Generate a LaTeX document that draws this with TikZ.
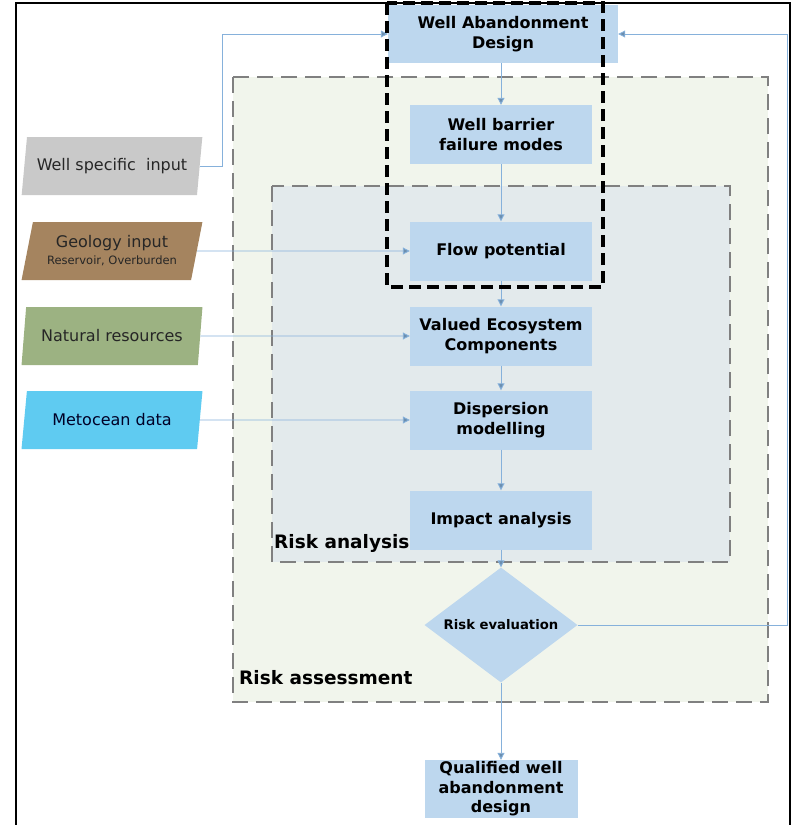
\documentclass[tikz,border=0pt]{standalone}
\usepackage{fontspec}
\setmainfont{DejaVu Sans}
\usetikzlibrary{shapes.geometric, arrows.meta}
\definecolor{boxblue}{HTML}{BDD7EE}
\definecolor{linkblue}{HTML}{86B1DB}
\definecolor{assessbg}{HTML}{F1F5EC}
\definecolor{analysisbg}{HTML}{E3EAEC}
\definecolor{wellgray}{HTML}{C9C9C9}
\definecolor{geobrown}{HTML}{A5845F}
\definecolor{natgreen}{HTML}{9CB282}
\definecolor{metblue}{HTML}{5FCBF1}
\tikzset{
  stepbox/.style={fill=boxblue, inner sep=0pt, align=center,
    minimum width=182pt, minimum height=59pt,
    font=\bfseries\fontsize{16}{19.5}\selectfont},
  inbox/.style={trapezium, trapezium left angle=73, trapezium right angle=107,
    trapezium stretches=true, inner sep=0pt, align=center,
    minimum width=181pt, minimum height=58pt, text=black!85,
    font=\fontsize{16}{18}\selectfont},
  link/.style={draw=linkblue, line width=0.9pt,
    -{Triangle[length=7pt, width=7pt, fill=linkblue!80!black]}},
  zone/.style={draw=gray, line width=1.4pt, dash pattern=on 16pt off 8pt},
  zonelabel/.style={font=\bfseries\fontsize{18.5}{20}\selectfont, inner sep=0pt}
}
\begin{document}
\begin{tikzpicture}[x=1pt, y=-1pt]
\useasboundingbox (0,0) rectangle (794,825);
% frame
\draw[line width=1.5pt] (16,840) -- (16,3) -- (790,3) -- (790,840);
% risk assessment and risk analysis areas
\fill[assessbg] (233,77) rectangle (768,702);
\draw[zone] (233,77) rectangle (768,702);
\fill[analysisbg] (272,186) rectangle (730,562);
\draw[zone] (272,186) rectangle (730,562);
\node[zonelabel, anchor=south west] (analysis) at (274,553) {Risk analysis};
\node[zonelabel, anchor=west] (assessment) at (239,678) {Risk assessment};
% steps
\node[stepbox, minimum width=230pt, minimum height=58pt] (wad) at (503,34) {Well Abandonment\\Design};
\node[stepbox] (wbf) at (501,134.5) {Well barrier\\failure modes};
\node[stepbox] (flow) at (501,251) {Flow potential};
\node[stepbox] (vec) at (501,336) {Valued Ecosystem\\Components};
\node[stepbox] (disp) at (501,420) {Dispersion\\modelling};
\node[stepbox] (imp) at (501,520) {Impact analysis};
\node[diamond, fill=boxblue, inner sep=0pt, minimum width=153pt, minimum height=115pt] (eval) at (501,625) {};
\node[font=\bfseries\fontsize{13.2}{15}\selectfont, inner sep=0pt] (evaltext) at (eval) {Risk evaluation};
\node[stepbox, minimum width=153pt, minimum height=58pt] (qual) at (501,789) {Qualified well\\abandonment\\design};
% inputs
\node[inbox, fill=wellgray] (ws) at (112,166) {Well specific\ \ input};
\node[inbox, fill=geobrown] (geo) at (112,251)
  {Geology input\\[-1pt]{\fontsize{11.5}{13}\selectfont Reservoir, Overburden}};
\node[inbox, fill=natgreen] (nat) at (112,336) {Natural resources};
\node[inbox, fill=metblue, text=black!75!blue!60!black] (met) at (112,420) {Metocean data};
% links
\coordinate (fb) at (787,625);
\draw[link] (ws.east) -- ++(23,0) |- (wad.west);
\draw[link] (geo.east) -- (flow.west);
\draw[link] (nat.east) -- (vec.west);
\draw[link] (met.east) -- (disp.west);
\draw[link] (wbf.north |- wad.south) -- (wbf);
\draw[link] (wbf) -- (flow);
\draw[link] (flow) -- (vec);
\draw[link] (vec) -- (disp);
\draw[link] (disp) -- (imp);
\draw[link] (imp) -- (eval);
\draw[link] (eval) -- (qual);
\draw[link] (eval.east) -- (fb) |- (wad.east);
% focus frame
\draw[line width=4pt, dash pattern=on 12pt off 6pt] (387,3) rectangle (603,287);
\end{tikzpicture}
\end{document}
